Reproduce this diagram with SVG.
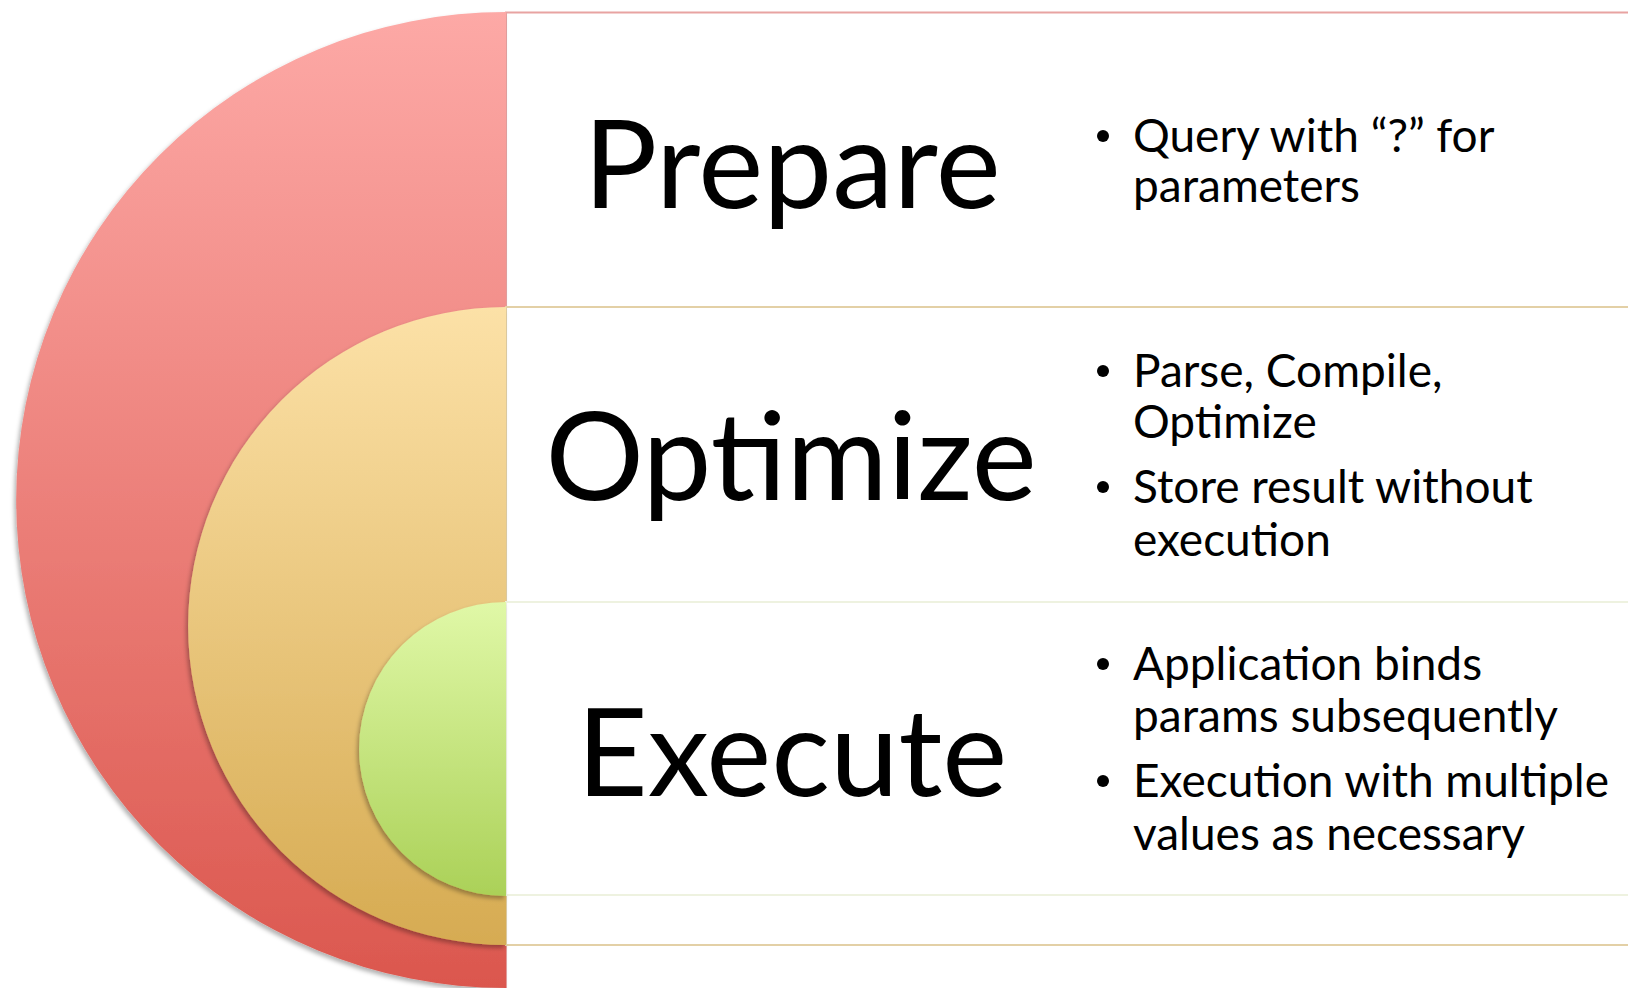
<svg xmlns="http://www.w3.org/2000/svg" width="1628" height="988" viewBox="0 0 1628 988">
<style>
.band{fill:#ffffff;stroke-width:2}
.title{font-family:Lato,"Open Sans",sans-serif;font-size:123px;fill:#000;text-anchor:middle}
.bul{font-family:Lato,"Open Sans",sans-serif;font-size:46px;fill:#000}
.dot{fill:#000}
</style>
<defs>
<linearGradient id="gRed" x1="0" y1="0" x2="0" y2="1">
<stop offset="0" stop-color="#FDA9A6"/><stop offset="1" stop-color="#DB574E"/>
</linearGradient>
<linearGradient id="gYel" x1="0" y1="0" x2="0" y2="1">
<stop offset="0" stop-color="#FCE1A7"/><stop offset="1" stop-color="#D6AB52"/>
</linearGradient>
<linearGradient id="gGrn" x1="0" y1="0" x2="0" y2="1">
<stop offset="0" stop-color="#E0F8A7"/><stop offset="1" stop-color="#ABD158"/>
</linearGradient>
<filter id="sh" x="-10%" y="-10%" width="120%" height="120%">
<feDropShadow dx="-2" dy="3" stdDeviation="2" flood-color="#000" flood-opacity="0.3"/>
</filter>
</defs>
<g id="prepare">
<rect class="band" x="506" y="12.5" width="1140" height="990" stroke="#E8A3A2"/>
<path d="M506,12 A490,488 0 0 0 506,988 Z" fill="url(#gRed)" filter="url(#sh)"/>
<text class="title" x="792" y="208">Prepare</text>
<circle class="dot" cx="1103" cy="136" r="6"/>
<text class="bul" x="1133" y="152">Query with “?” for</text>
<text class="bul" x="1133" y="202">parameters</text>
</g>
<g id="optimize">
<rect class="band" x="506" y="307" width="1140" height="638" stroke="#E3D0A6"/>
<path d="M506,307 A318,319 0 0 0 506,945 Z" fill="url(#gYel)" filter="url(#sh)"/>
<text class="title" x="791" y="500">Optimize</text>
<circle class="dot" cx="1103" cy="371" r="6"/>
<text class="bul" x="1133" y="387">Parse, Compile,</text>
<text class="bul" x="1133" y="438">Optimize</text>
<circle class="dot" cx="1103" cy="487" r="6"/>
<text class="bul" x="1133" y="503">Store result without</text>
<text class="bul" x="1133" y="556">execution</text>
</g>
<g id="execute">
<rect class="band" x="506" y="602" width="1140" height="293" stroke="#EEF2E0"/>
<path d="M506,602 A147,147 0 0 0 506,896 Z" fill="url(#gGrn)" filter="url(#sh)"/>
<text class="title" x="792" y="796">Execute</text>
<circle class="dot" cx="1103" cy="664" r="6"/>
<text class="bul" x="1133" y="680">Application binds</text>
<text class="bul" x="1133" y="732">params subsequently</text>
<circle class="dot" cx="1103" cy="781" r="6"/>
<text class="bul" x="1133" y="797">Execution with multiple</text>
<text class="bul" x="1133" y="850">values as necessary</text>
</g>
<g id="connectors"></g>
</svg>
